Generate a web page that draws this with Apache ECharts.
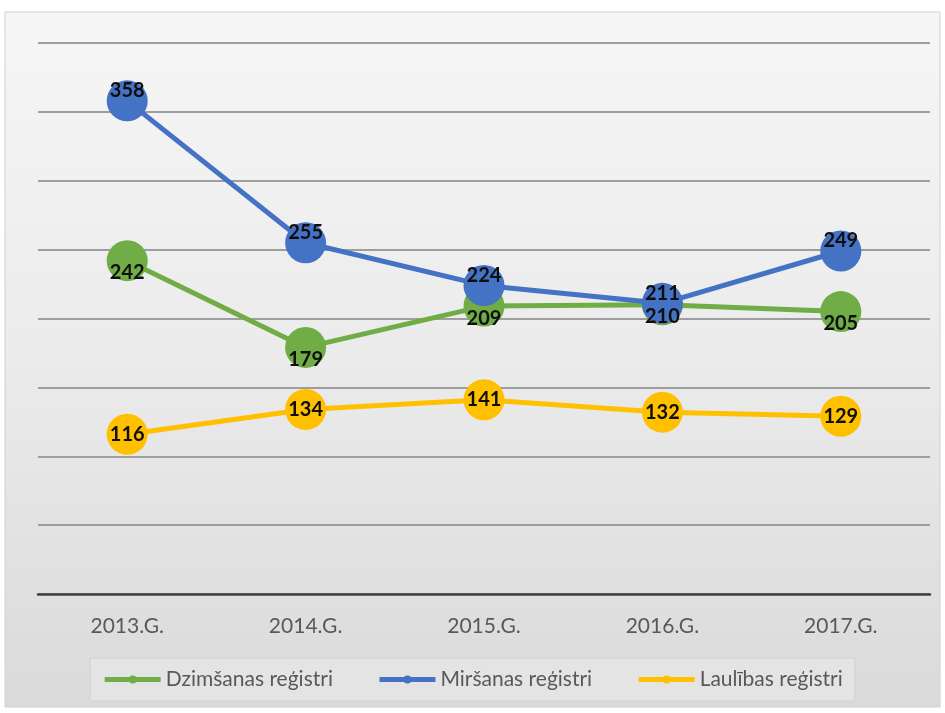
<!DOCTYPE html>
<html><head><meta charset="utf-8">
<script src="https://cdn.jsdelivr.net/npm/echarts@6/dist/echarts.min.js"></script>
<style>html,body{margin:0;padding:0;background:#fff}#c{width:945px;height:713px}</style>
</head><body><div id="c"></div>
<script>
const categories = ['2013.G.', '2014.G.', '2015.G.', '2016.G.', '2017.G.'];
const dzimsanas = [242, 179, 209, 210, 205];
const mirsanas = [358, 255, 224, 211, 249];
const laulibas = [116, 134, 141, 132, 129];
const seriesNames = ['Dzimšanas reģistri', 'Miršanas reģistri', 'Laulības reģistri'];

const font = "Lato,'Open Sans',sans-serif";
const chart = echarts.init(document.getElementById('c'));
function mk(name, data, color, offset) {
  return {
    name, type: 'line', data, color,
    symbol: 'circle', symbolSize: 41,
    lineStyle: { width: 5, color },
    itemStyle: { color },
    label: { show: true, position: 'inside', offset, color: '#0e0e0e', fontWeight: 'bold', fontSize: 20, fontFamily: font },
    emphasis: { disabled: true }
  };
}
chart.setOption({
  animation: false,
  backgroundColor: '#ffffff',
  graphic: [{
    type: 'rect', z: -100, silent: true,
    shape: { x: 5, y: 12, width: 935, height: 695 },
    style: {
      fill: new echarts.graphic.LinearGradient(0, 0, 0, 1, [
        { offset: 0, color: '#f6f6f6' }, { offset: 0.5, color: '#ebebeb' }, { offset: 1, color: '#dadada' }]),
      stroke: '#d0d0d0', lineWidth: 1
    }
  }],
  grid: { left: 38, right: 15, top: 43, bottom: 119 },
  xAxis: {
    type: 'category', data: categories, boundaryGap: true,
    axisLine: { lineStyle: { color: '#404040', width: 2.5 } },
    axisTick: { show: false },
    axisLabel: { color: '#595959', fontSize: 21, margin: 22, fontFamily: font }
  },
  yAxis: {
    type: 'value', min: 0, max: 400, interval: 50,
    axisLabel: { show: false }, axisLine: { show: false }, axisTick: { show: false },
    splitLine: { lineStyle: { color: '#9e9e9e', width: 2 } }
  },
  legend: {
    bottom: 12, left: 'center',
    data: seriesNames,
    backgroundColor: '#e4e4e4', borderColor: '#d2d2d2', borderWidth: 1,
    padding: [11, 12], itemGap: 44, itemWidth: 56, itemHeight: 10,
    textStyle: { color: '#595959', fontSize: 21, fontFamily: font },
    itemStyle: { borderWidth: 0 },
    lineStyle: { width: 5 }
  },
  series: [
    mk(seriesNames[0], dzimsanas, '#70AD47', [0, 12]),
    mk(seriesNames[1], mirsanas, '#4472C4', [0, -10]),
    mk(seriesNames[2], laulibas, '#FFC000', [0, 0])
  ]
});
</script></body></html>
